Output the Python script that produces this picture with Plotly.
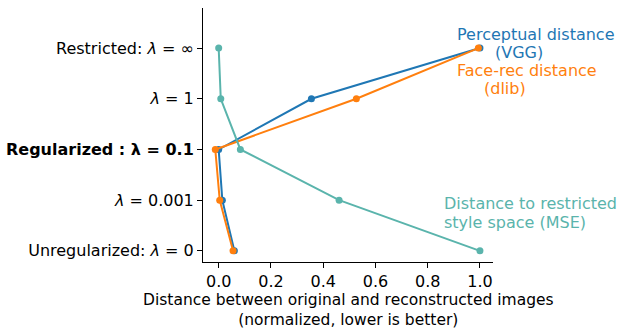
import plotly.graph_objects as go

categories = ["Unregularized: <i>λ</i> = 0", "<i>λ</i> = 0.001", "<b>Regularized : λ = 0.1</b>",
              "<i>λ</i> = 1", "Restricted: <i>λ</i> = ∞"]
perceptual_vgg = [0.06, 0.014, 0.0, 0.355, 1.0]
facerec_dlib = [0.055, 0.004, -0.013, 0.527, 0.994]
style_mse = [1.0, 0.461, 0.083, 0.008, 0.0]
x_ticks = [0.0, 0.2, 0.4, 0.6, 0.8, 1.0]
x_title = ["Distance between original and reconstructed images", "(normalized, lower is better)"]

BLUE = "#1f77b4"
ORANGE = "#ff7f0e"
TEAL = "#5ab4ac"
FONT = "DejaVu Sans"

yidx = list(range(len(categories)))

fig = go.Figure()
for vals, col in [(perceptual_vgg, BLUE), (facerec_dlib, ORANGE), (style_mse, TEAL)]:
    fig.add_trace(go.Scatter(x=vals, y=yidx, mode="lines+markers",
                             line=dict(color=col, width=2),
                             marker=dict(color=col, size=7),
                             showlegend=False, cliponaxis=False))

ann = [
    ("Perceptual distance", BLUE, 455, 34),
    ("(VGG)", BLUE, 493, 52),
    ("Face-rec distance", ORANGE, 455, 70),
    ("(dlib)", ORANGE, 482, 88),
    ("Distance to restricted", TEAL, 442, 203),
    ("style space (MSE)", TEAL, 442, 222),
]
for txt, col, px, py in ann:
    fig.add_annotation(text=txt, xref="paper", yref="paper",
                       x=(px - 203) / 290, y=(262 - py) / 254,
                       xanchor="left", yanchor="middle", showarrow=False,
                       font=dict(family=FONT, size=16, color=col))

fig.add_annotation(text="<br>".join(x_title), xref="paper", yref="paper",
                   x=0.5, y=(262 - 290) / 254, borderpad=0,
                   xanchor="center", yanchor="top", showarrow=False,
                   font=dict(family=FONT, size=15.5, color="black"))

fig.update_layout(
    width=624, height=329,
    margin=dict(l=203, r=131, t=8, b=67, autoexpand=False),
    plot_bgcolor="white", paper_bgcolor="white",
    font=dict(family=FONT, size=16, color="black"),
    xaxis=dict(range=[-0.06, 1.05], tickvals=x_ticks,
               ticktext=[f"{v:.1f}" for v in x_ticks], automargin=False,
               showgrid=False, zeroline=False, showline=True, linecolor="black", linewidth=1,
               ticks="outside", ticklen=5, tickcolor="black"),
    yaxis=dict(range=[-0.22, 4.79], tickvals=yidx, ticktext=categories, automargin=False,
               showgrid=False, zeroline=False, showline=True, linecolor="black", linewidth=1,
               ticks="outside", ticklen=5, tickcolor="black"),
)

fig.write_html("out.html", config={"displayModeBar": False},
               post_script="document.body.style.margin='0';document.body.style.overflow='hidden';")
